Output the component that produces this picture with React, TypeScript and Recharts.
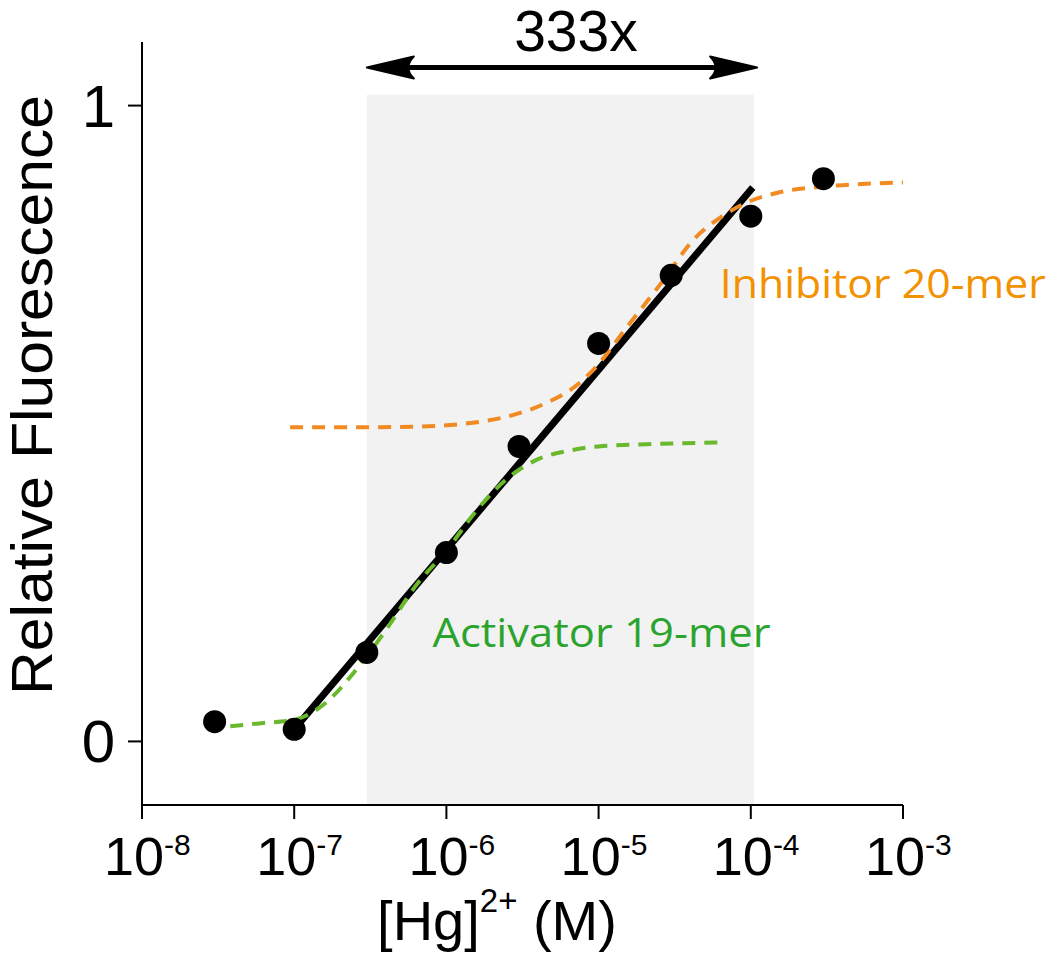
import {
  ComposedChart,
  Line,
  Scatter,
  XAxis,
  YAxis,
  ReferenceArea,
  ReferenceLine,
  ReferenceDot,
} from 'recharts';

const FONT = "'Liberation Sans', Arial, Helvetica, sans-serif";
const LABEL_FONT = "'Open Sans', 'Noto Sans', sans-serif";

// axis ticks
const xTicks = [1e-8, 1e-7, 1e-6, 1e-5, 1e-4, 1e-3];
const yTicks = [0, 1];

// measured points ([Hg2+] in M, relative fluorescence)
const hgConc = [3e-8, 1e-7, 3e-7, 1e-6, 3e-6, 1e-5, 3e-5, 1e-4, 3e-4];
const fluorescence = [0.031, 0.019, 0.14, 0.297, 0.464, 0.626, 0.733, 0.826, 0.885];

// combined linear fit
const fitConc = [1e-7, 1.03e-4];
const fitValues = [0.019, 0.871];

// inhibitor 20-mer curve
const inhibitorConc = [
  9.4e-8, 2.5e-7, 6.1e-7, 1.7e-6, 2.8e-6, 4.6e-6, 6.9e-6, 9.3e-6, 1.55e-5, 2.6e-5,
  4.2e-5, 6.4e-5, 9.5e-5, 1.5e-4, 3.2e-4, 1e-3,
];
const inhibitorValues = [
  0.494, 0.494, 0.495, 0.503, 0.514, 0.533, 0.557, 0.585, 0.653, 0.722, 0.789, 0.825,
  0.848, 0.863, 0.873, 0.879,
];

// activator 19-mer curve
const activatorConc = [
  3.8e-8, 6.3e-8, 1e-7, 1.6e-7, 2.5e-7, 4e-7, 6.3e-7, 1e-6, 1.6e-6, 2.5e-6, 4e-6, 6.3e-6,
  1e-5, 2.5e-5, 6.2e-5,
];
const activatorValues = [
  0.024, 0.029, 0.034, 0.06, 0.11, 0.175, 0.245, 0.3, 0.365, 0.413, 0.444, 0.457, 0.464,
  0.468, 0.47,
];

// dynamic range
const rangeConc = [3e-7, 1.05e-4];
const rangeTop = 1.017;
const arrowConc = [3e-7, 1.1e-4];
const arrowLevel = 1.06;
const arrowLabel = '333x';

const annotations = [
  { x: 6.25e-5, y: 0.698, text: 'Inhibitor 20-mer', color: '#F39200', width: 326 },
  { x: 8.1e-7, y: 0.148, text: 'Activator 19-mer', color: '#2BA42E', width: 338 },
];

const toPoints = (xs: number[], ys: number[]) => xs.map((x, i) => ({ x, y: ys[i] }));

const measured = toPoints(hgConc, fluorescence);
const fitLine = toPoints(fitConc, fitValues);
const inhibitor = toPoints(inhibitorConc, inhibitorValues);
const activator = toPoints(activatorConc, activatorValues);

const XTick = ({ x, y, payload }: any) => {
  const exp = Math.round(Math.log10(payload.value));
  return (
    <text x={x - 38} y={y + 56} fontSize={54} fill="#000" fontFamily={FONT}>
      10
      <tspan dy={-20} fontSize={30}>
        {exp}
      </tspan>
    </text>
  );
};

const YTick = ({ x, y, payload }: any) => (
  <text x={x - 13} y={y + 21} textAnchor="end" fontSize={60} fill="#000" fontFamily={FONT}>
    {payload.value}
  </text>
);

const YTitle = () => (
  <text
    x={52}
    y={395}
    transform="rotate(-90, 52, 395)"
    textAnchor="middle"
    fontSize={58}
    fill="#000"
    fontFamily={FONT}
    textLength={600}
    lengthAdjust="spacingAndGlyphs"
  >
    Relative Fluorescence
  </text>
);

const XTitle = () => (
  <text x={497} y={940} textAnchor="middle" fontSize={56} fill="#000" fontFamily={FONT}>
    [Hg]
    <tspan dy={-28} fontSize={33}>
      2+
    </tspan>
    <tspan dy={28}> (M)</tspan>
  </text>
);

const ArrowShape = (props: any) => {
  const { x1, y1, x2 } = props;
  const y = y1;
  return (
    <g>
      <line x1={x1 + 10} y1={y} x2={x2 - 10} y2={y} stroke="#000" strokeWidth={5} />
      <path
        d={`M${x1},${y} L${x1 + 47},${y - 11} Q${x1 + 36},${y} ${x1 + 47},${y + 11} Z`}
        fill="#000"
        stroke="#000"
        strokeWidth={2}
        strokeLinejoin="round"
      />
      <path
        d={`M${x2},${y} L${x2 - 47},${y - 11} Q${x2 - 36},${y} ${x2 - 47},${y + 11} Z`}
        fill="#000"
        stroke="#000"
        strokeWidth={2}
        strokeLinejoin="round"
      />
      <text
        x={(x1 + x2) / 2 + 14}
        y={y - 16}
        textAnchor="middle"
        fontSize={57}
        fill="#000"
        fontFamily={FONT}
      >
        {arrowLabel}
      </text>
    </g>
  );
};

const Dot = (props: any) => <circle cx={props.cx} cy={props.cy} r={11.5} fill="#000" />;

export default function App() {
  return (
    <div
      style={{
        position: 'absolute',
        left: 0,
        top: 0,
        width: 1050,
        height: 956,
        background: '#fff',
      }}
    >
      <ComposedChart width={1050} height={956} margin={{ top: 42, right: 147, bottom: 0, left: 0 }}>
        <XAxis
          dataKey="x"
          type="number"
          scale="log"
          domain={[1e-8, 1e-3]}
          ticks={xTicks}
          interval={0}
          allowDataOverflow
          height={151}
          tickSize={14}
          tickMargin={0}
          axisLine={{ stroke: '#000', strokeWidth: 2 }}
          tickLine={{ stroke: '#000', strokeWidth: 2 }}
          tick={<XTick />}
          label={<XTitle />}
        />
        <YAxis
          type="number"
          domain={[-0.1, 1.1]}
          ticks={yTicks}
          interval={0}
          allowDataOverflow
          width={142}
          tickSize={14}
          tickMargin={0}
          axisLine={{ stroke: '#000', strokeWidth: 2 }}
          tickLine={{ stroke: '#000', strokeWidth: 2 }}
          tick={<YTick />}
          label={<YTitle />}
        />
        <ReferenceArea
          x1={rangeConc[0]}
          x2={rangeConc[1]}
          y1={-0.1}
          y2={rangeTop}
          fill="#F2F2F2"
          fillOpacity={1}
          stroke="none"
        />
        <ReferenceLine
          segment={[
            { x: arrowConc[0], y: arrowLevel },
            { x: arrowConc[1], y: arrowLevel },
          ]}
          shape={ArrowShape}
        />
        <Line
          data={fitLine}
          dataKey="y"
          type="linear"
          stroke="#000"
          strokeWidth={7}
          dot={false}
          activeDot={false}
          isAnimationActive={false}
        />
        <Line
          data={inhibitor}
          dataKey="y"
          type="monotone"
          stroke="#F18A21"
          strokeWidth={4}
          strokeDasharray="13 9"
          dot={false}
          activeDot={false}
          isAnimationActive={false}
        />
        <Line
          data={activator}
          dataKey="y"
          type="monotone"
          stroke="#6AB92D"
          strokeWidth={4}
          strokeDasharray="13 9"
          dot={false}
          activeDot={false}
          isAnimationActive={false}
        />
        <Scatter data={measured} dataKey="y" shape={Dot} isAnimationActive={false} />
        {annotations.map((a) => (
          <ReferenceDot
            key={a.text}
            x={a.x}
            y={a.y}
            r={0}
            shape={(p: any) => (
              <text
                x={p.cx}
                y={p.cy}
                fontSize={41}
                fill={a.color}
                fontFamily={LABEL_FONT}
                textLength={a.width}
                lengthAdjust="spacingAndGlyphs"
              >
                {a.text}
              </text>
            )}
          />
        ))}
      </ComposedChart>
    </div>
  );
}
